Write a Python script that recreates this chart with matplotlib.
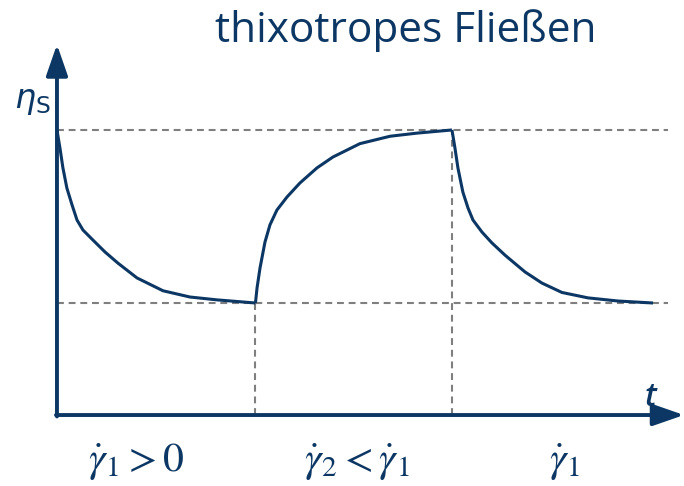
import numpy as np
import matplotlib.pyplot as plt

BLUE = "#0c3764"
GRAY = "#7f7f7f"

# viscosity curve (t in phase units, eta relative to start)
t_down1 = [0.0, 0.015, 0.030, 0.050, 0.076, 0.101, 0.131, 0.181, 0.242, 0.307,
           0.403, 0.534, 0.670, 0.806, 1.0]
eta_down1 = [1.0, 0.937, 0.867, 0.796, 0.737, 0.684, 0.649, 0.614, 0.572, 0.533,
             0.481, 0.436, 0.414, 0.404, 0.393]

t_up = [1.0, 1.008, 1.023, 1.048, 1.073, 1.108, 1.159, 1.224, 1.310, 1.390,
        1.526, 1.678, 1.814, 1.99]
eta_up = [0.393, 0.446, 0.516, 0.607, 0.667, 0.719, 0.765, 0.814, 0.867, 0.905,
          0.952, 0.978, 0.989, 1.0]

t_down2 = [1.99, 2.005, 2.020, 2.045, 2.071, 2.096, 2.141, 2.191, 2.257, 2.358,
           2.443, 2.544, 2.675, 2.826, 3.003]
eta_down2 = [1.0, 0.937, 0.867, 0.782, 0.726, 0.684, 0.642, 0.604, 0.561, 0.502,
             0.463, 0.430, 0.411, 0.400, 0.393]

eta_high = 1.0
eta_low = 0.393
t_switch = [1.0, 1.99]
t_end = 3.08

phase_labels = [r"$\dot{\gamma}_1 > 0$", r"$\dot{\gamma}_2 < \dot{\gamma}_1$", r"$\dot{\gamma}_1$"]
phase_pos = [0.40, 1.51, 2.56]

plt.rcParams["mathtext.fontset"] = "stix"

fig = plt.figure(figsize=(6.84, 4.86), dpi=100)
ax = fig.add_axes([0, 0, 1, 1])
ax.set_xlim(-0.287, 3.159)
ax.set_ylim(-0.249, 1.456)
ax.axis("off")

# reference lines
dash = (0, (3.3, 2.3))
ax.plot([0, t_end], [eta_high, eta_high], color=GRAY, lw=1.5, ls=dash)
ax.plot([0, t_end], [eta_low, eta_low], color=GRAY, lw=1.5, ls=dash)
ax.plot([t_switch[0], t_switch[0]], [0, eta_low], color=GRAY, lw=1.5, ls=dash)
ax.plot([t_switch[1], t_switch[1]], [0, eta_high], color=GRAY, lw=1.5, ls=dash)

# curve
for tt, ee in [(t_down1, eta_down1), (t_up, eta_up), (t_down2, eta_down2)]:
    ax.plot(tt, ee, color=BLUE, lw=2.2, solid_joinstyle="round", solid_capstyle="butt")

# axes arrows
arrow = dict(arrowstyle="-|>,head_length=0.95,head_width=0.33", lw=2.8, color=BLUE,
             shrinkA=0, shrinkB=0, mutation_scale=20)
ax.annotate("", xy=(0, 1.30), xytext=(0, -0.005), arrowprops=arrow)
ax.annotate("", xy=(3.159, 0), xytext=(-0.005, 0), arrowprops=arrow)

ax.text(-0.215, 1.077, r"$\eta_{\mathrm{S}}$", fontsize=24, color=BLUE,
        math_fontfamily="dejavusans", ha="left", va="baseline")
ax.text(2.99, 0.032, "t", fontsize=23, color=BLUE, style="italic", fontweight="semibold",
        family="Open Sans", ha="center", va="baseline")

ax.text(1.758, 1.309, "thixotropes Fließen", fontsize=30.5, color=BLUE,
        family="Open Sans", ha="center", va="baseline")

for lab, x in zip(phase_labels, phase_pos):
    ax.text(x, -0.200, lab, fontsize=30, color=BLUE, ha="center", va="baseline")

fig.savefig("out.png", dpi=100)
